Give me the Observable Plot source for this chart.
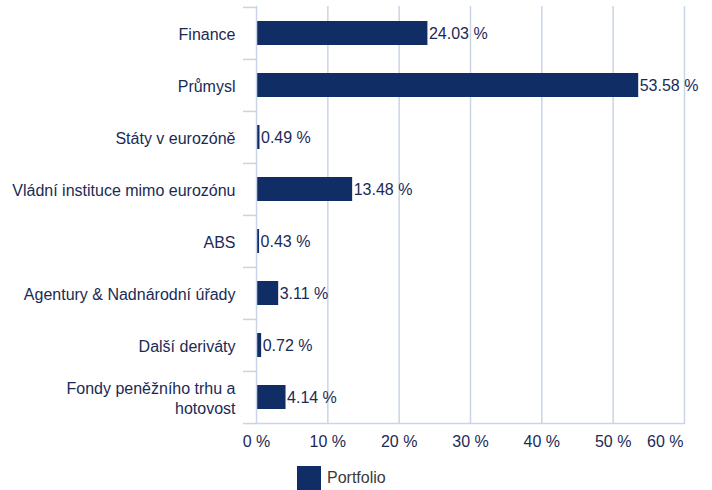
<!DOCTYPE html>
<html>
<head>
<meta charset="utf-8">
<script src="https://cdn.jsdelivr.net/npm/d3@7"></script>
<script src="https://cdn.jsdelivr.net/npm/@observablehq/plot@0.6"></script>
<style>
  html, body { margin: 0; padding: 0; background: #fff; }
  body { width: 712px; height: 490px; overflow: hidden; font-family: "Liberation Sans", Arial, Helvetica, sans-serif; }
  #legend { display: flex; align-items: center; margin-top: 11px; padding-left: 297px; font-size: 16px; color: #3a3a3a; }
  #legend .sw { width: 24px; height: 24px; background: #112d66; margin-right: 6px; }
</style>
</head>
<body>
<div id="chart"></div>
<div id="legend"><span class="sw"></span><span>Portfolio</span></div>
<script>
const categories = [
  "Finance",
  "Průmysl",
  "Státy v eurozóně",
  "Vládní instituce mimo eurozónu",
  "ABS",
  "Agentury & Nadnárodní úřady",
  "Další deriváty",
  "Fondy peněžního trhu a hotovost"
];
const categoryLabels = [
  "Finance",
  "Průmysl",
  "Státy v eurozóně",
  "Vládní instituce mimo eurozónu",
  "ABS",
  "Agentury & Nadnárodní úřady",
  "Další deriváty",
  "Fondy peněžního trhu a\nhotovost"
];
const portfolio = [24.03, 53.58, 0.49, 13.48, 0.43, 3.11, 0.72, 4.14];
const xTicks = [0, 10, 20, 30, 40, 50, 60];
const seriesName = "Portfolio";

const data = categories.map((c, i) => ({category: c, value: portfolio[i]}));
const labelOf = new Map(categories.map((c, i) => [c, categoryLabels[i]]));

const W = 712, H = 455, mT = 6, mB = 32, mL = 256, mR = 28;
const step = (H - mT - mB) / categories.length;
const navy = "#112d66";
const textColor = "#1b2a55";
const gridColor = "#c9d5e6";
const fontSize = 16;

const chart = Plot.plot({
  width: W,
  height: H,
  marginTop: mT,
  marginBottom: mB,
  marginLeft: mL,
  marginRight: mR,
  style: {fontFamily: '"Liberation Sans", Arial, Helvetica, sans-serif', fontSize: fontSize + "px", color: textColor, background: "#fff"},
  x: {domain: [0, 60], label: null},
  y: {domain: categories, paddingInner: 0.54, paddingOuter: 0.27, label: null},
  marks: [
    Plot.gridX({ticks: xTicks.slice(1), stroke: gridColor, strokeOpacity: 1, strokeWidth: 1.5}),
    Plot.barX(data, {x: "value", y: "category", fill: navy}),
    Plot.text(data, {x: "value", y: "category", text: d => d.value.toFixed(2) + " %", textAnchor: "start", dx: 1, fill: textColor, fontSize: fontSize}),
    Plot.frame({anchor: "left", stroke: gridColor, strokeWidth: 1.5}),
    Plot.frame({anchor: "bottom", stroke: gridColor, strokeWidth: 1.5}),
    Plot.axisY({label: null, tickSize: 0, tickPadding: 21, tickFormat: d => labelOf.get(d), fontSize: fontSize, fill: textColor, lineHeight: 1.25}),
    Plot.axisY({label: null, tickSize: 13, tickFormat: () => "", dy: -step / 2, stroke: gridColor, strokeWidth: 1.5}),
    Plot.axisY({label: null, ticks: categories.slice(-1), tickSize: 13, tickFormat: () => "", dy: step / 2, stroke: gridColor, strokeWidth: 1.5}),
    Plot.axisX({label: null, ticks: xTicks.slice(0, -1), tickSize: 0, tickPadding: 12, tickFormat: d => d + " %", fontSize: fontSize, fill: textColor}),
    Plot.axisX({label: null, ticks: xTicks.slice(-1), tickSize: 0, tickPadding: 12, tickFormat: d => d + " %", fontSize: fontSize, fill: textColor, textAnchor: "end", dx: -1})
  ]
});
document.getElementById("chart").appendChild(chart);
chart.style.display = "block";
</script>
</body>
</html>
